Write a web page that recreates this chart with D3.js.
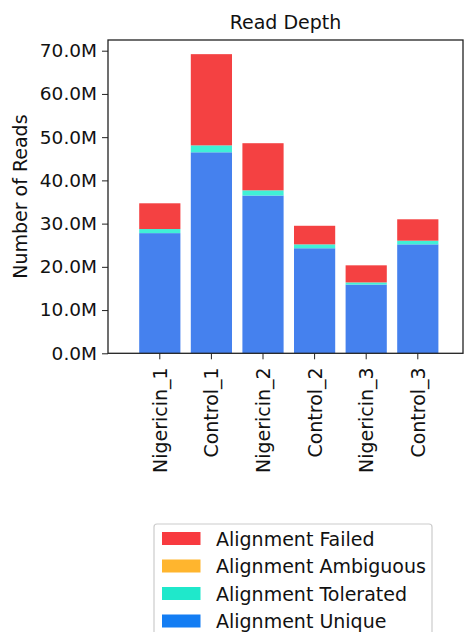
<!DOCTYPE html>
<html><head><meta charset="utf-8">
<script src="https://cdn.jsdelivr.net/npm/d3@7"></script>
<style>body{margin:0;background:#fff}svg{display:block;font-family:"DejaVu Sans",sans-serif}</style>
</head><body><svg id="c" width="465" height="632"></svg>
<script>
const samples = ["Nigericin_1","Control_1","Nigericin_2","Control_2","Nigericin_3","Control_3"];
const unique    = [27.8, 46.5, 36.5, 24.3, 15.9, 25.2];
const tolerated = [0.95, 1.6, 1.2, 0.9, 0.5, 0.85];
const ambiguous = [0, 0, 0, 0, 0, 0];
const failed    = [5.95, 21.1, 10.9, 4.3, 3.95, 4.95];
const yTicks = [0,10,20,30,40,50,60,70];
const seriesNames = ["Alignment Unique","Alignment Tolerated","Alignment Ambiguous","Alignment Failed"];
const legendOrder = ["Alignment Failed","Alignment Ambiguous","Alignment Tolerated","Alignment Unique"];
const barColors = {"Alignment Unique":"#4581ee","Alignment Tolerated":"#40f0d6","Alignment Ambiguous":"#ffb52e","Alignment Failed":"#f44142"};
const legendColors = {"Alignment Unique":"#137df3","Alignment Tolerated":"#1fe8cb","Alignment Ambiguous":"#ffb52e","Alignment Failed":"#f83a3f"};

const svg = d3.select("#c");
const L=108, R=463, T=40, B=353.3;
const FS = 19;
const x = d3.scaleLinear().domain([-1.004, 5.876]).range([L,R]);
const y = d3.scaleLinear().domain([0,70]).range([B,50.7]);
const bw = 41.2;

const rows = samples.map((s,i)=>({sample:s,i,"Alignment Unique":unique[i],"Alignment Tolerated":tolerated[i],"Alignment Ambiguous":ambiguous[i],"Alignment Failed":failed[i]}));
const stack = d3.stack().keys(seriesNames)(rows);

svg.append("g").selectAll("g").data(stack).join("g").attr("fill",d=>barColors[d.key])
 .selectAll("rect").data(d=>d).join("rect")
 .attr("x",d=>x(d.data.i)-bw/2).attr("width",bw)
 .attr("y",d=>y(d[1])).attr("height",d=>Math.max(0,y(d[0])-y(d[1])));

svg.append("rect").attr("x",L).attr("y",T).attr("width",R-L).attr("height",B-T)
 .attr("fill","none").attr("stroke","#222").attr("stroke-width",1.3);

const yAxis = svg.append("g").attr("transform",`translate(${L},0)`)
 .call(d3.axisLeft(y).tickValues(yTicks).tickFormat(d=>d.toFixed(1)+"M").tickSize(6).tickPadding(5));
yAxis.select(".domain").remove();
yAxis.selectAll("text").attr("font-size",18.5).attr("fill","#111").attr("font-family","DejaVu Sans");
yAxis.selectAll("line").attr("stroke","#222");

const xg = svg.append("g").attr("transform",`translate(0,${B})`);
samples.forEach((s,i)=>{
  xg.append("line").attr("x1",x(i)).attr("x2",x(i)).attr("y1",0).attr("y2",6).attr("stroke","#222");
  xg.append("text").attr("transform",`translate(${x(i)+7},${14}) rotate(-90)`)
   .attr("text-anchor","end").attr("font-size",FS).attr("fill","#111").text(s);
});

svg.append("text").attr("x",285.5).attr("y",29).attr("text-anchor","middle").attr("font-size",FS).attr("fill","#111").text("Read Depth");
svg.append("text").attr("transform",`translate(27,${(T+B)/2}) rotate(-90)`).attr("text-anchor","middle").attr("font-size",FS).attr("fill","#111").text("Number of Reads");

const lg = svg.append("g");
lg.append("rect").attr("x",154).attr("y",524).attr("width",278).attr("height",130).attr("rx",3)
 .attr("fill","#fff").attr("stroke","#ccc").attr("stroke-width",1.2);
legendOrder.forEach((k,j)=>{
  const cy = 538.5 + j*27.5;
  lg.append("rect").attr("x",162).attr("y",cy-6.5).attr("width",38.5).attr("height",13).attr("fill",legendColors[k]);
  lg.append("text").attr("x",216).attr("y",cy+7.2).attr("font-size",FS).attr("fill","#111").text(k);
});
</script></body></html>
